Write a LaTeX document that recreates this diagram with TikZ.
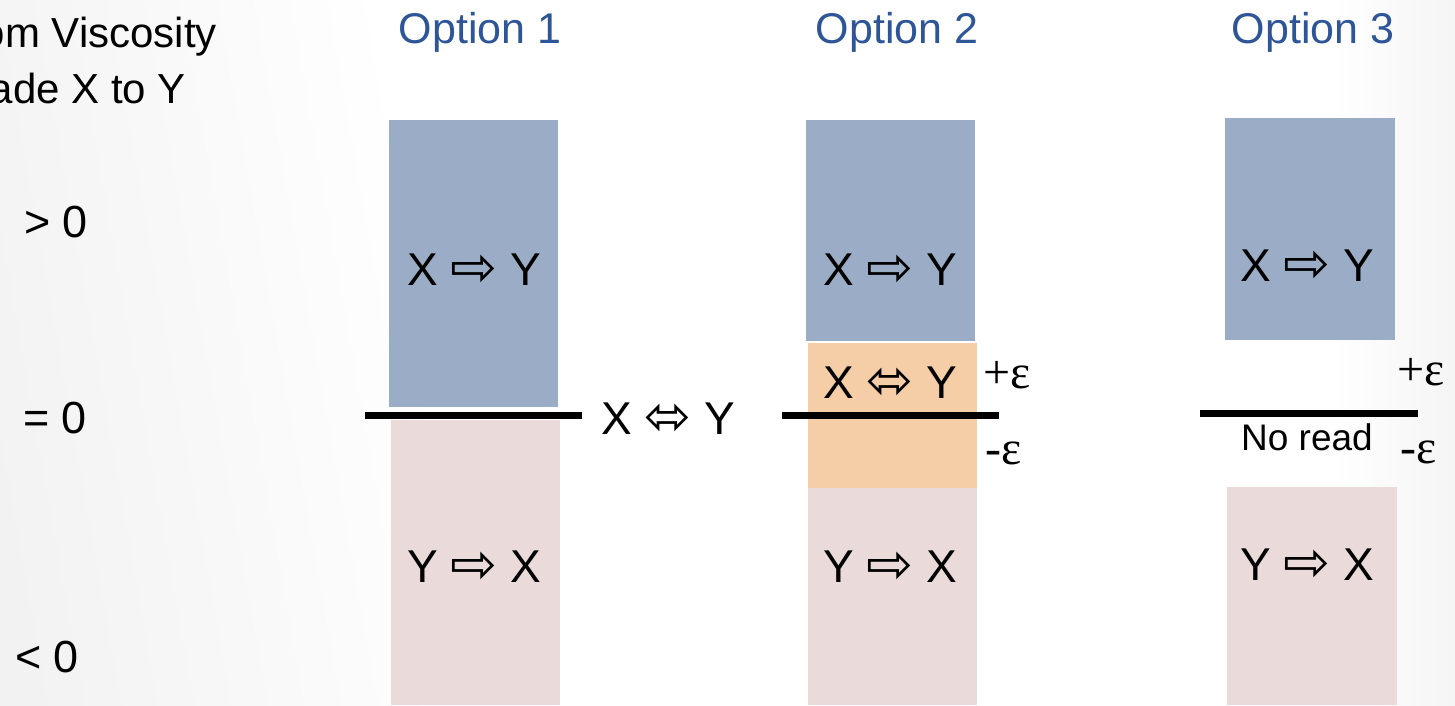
\documentclass[tikz,border=0pt]{standalone}
\usepackage{fontspec}
\setmainfont{Liberation Sans}
\newfontfamily\symfont{DejaVu Sans}
\newfontfamily\serfont{Liberation Serif}
\definecolor{boxblue}{HTML}{9BADC6}
\definecolor{boxpink}{HTML}{EADADA}
\definecolor{boxorange}{HTML}{F5CDA7}
\definecolor{titleblue}{HTML}{2E5597}
\newcommand{\rarr}{\raisebox{-1pt}{\symfont\fontsize{56}{60}\selectfont ⇨}}
\newcommand{\lrarr}{\raisebox{-1pt}{\symfont\fontsize{56}{60}\selectfont ⬄}}
\begin{document}
\begin{tikzpicture}[x=1pt,y=-1pt,
  title/.style={text=titleblue,font=\fontsize{43}{48}\selectfont,inner sep=0pt},
  side/.style={font=\fontsize{45}{50}\selectfont,inner sep=0pt},
  head/.style={font=\fontsize{42}{48}\selectfont,inner sep=0pt},
  lbl/.style={font=\fontsize{46}{52}\selectfont,inner sep=0pt},
  eps/.style={font=\serfont\fontsize{48}{52}\selectfont,inner sep=0pt},
  bar/.style={line width=7pt,black}]
\useasboundingbox (0,0) rectangle (1455,705);
\fill[white] (0,0) rectangle (1455,705);
\shade[left color=black!5,right color=white,shading angle=100] (0,0) rectangle (420,705);
\shade[left color=white,right color=black!4] (1330,0) rectangle (1455,705);
% left texts
\node[head,anchor=east] (t1) at (217,37) {om Viscosity};
\node[head,anchor=east] (t2) at (186,88) {ade X to Y};
\node[side] (gt) at (56,222) {> 0};
\node[side] (eq) at (55,418) {= 0};
\node[side] (lt) at (47,657) {< 0};
% titles
\node[title] (o1) at (480,32) {Option 1};
\node[title] (o2) at (897,32) {Option 2};
\node[title] (o3) at (1313,32) {Option 3};
% option 1
\fill[boxblue] (389,120) rectangle (558,407);
\fill[boxpink] (391,420) rectangle (560,705);
\draw[bar] (365,415) -- (582,415);
\node[lbl] (a1) at (474,270) {X \rarr{} Y};
\node[lbl] (b1) at (474,567) {Y \rarr{} X};
\node[lbl] (c1) at (668,419) {X \lrarr{} Y};
% option 2
\fill[boxblue] (806,120) rectangle (975,341);
\fill[boxorange] (808,343) rectangle (977,488);
\fill[boxpink] (808,488) rectangle (977,705);
\draw[bar] (782,415) -- (999,415);
\node[lbl] (a2) at (890,270) {X \rarr{} Y};
\node[lbl] (c2) at (890,383) {X \lrarr{} Y};
\node[lbl] (b2) at (890,567) {Y \rarr{} X};
\node[eps,anchor=west] (p2) at (983,375) {+ε};
\node[eps,anchor=west] (m2) at (985,453) {-ε};
% option 3
\fill[boxblue] (1225,118) rectangle (1395,340);
\fill[boxpink] (1227,487) rectangle (1397,705);
\draw[bar] (1200,413) -- (1418,413);
\node[lbl] (a3) at (1307,266) {X \rarr{} Y};
\node[lbl] (b3) at (1307,565) {Y \rarr{} X};
\node[font=\fontsize{37}{42}\selectfont,inner sep=0pt] (nr) at (1307,437) {No read};
\node[eps,anchor=west] (p3) at (1397,372) {+ε};
\node[eps,anchor=west] (m3) at (1400,452) {-ε};
\end{tikzpicture}
\end{document}
